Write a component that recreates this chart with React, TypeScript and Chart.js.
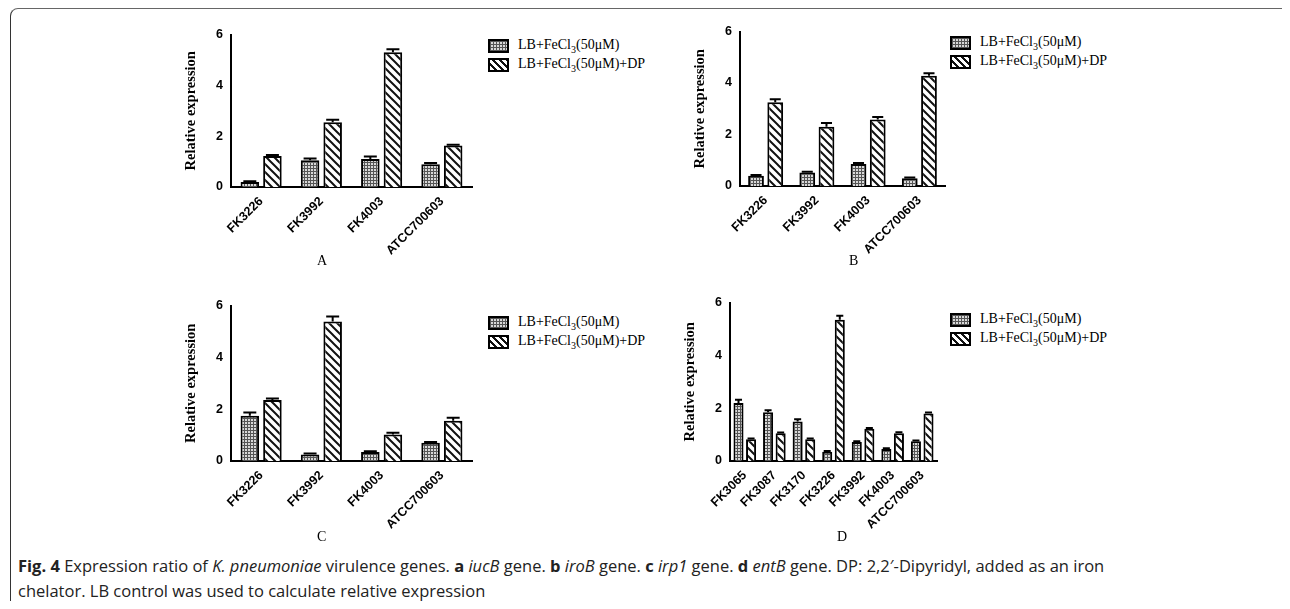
import { useEffect, useRef } from "react"
import { Chart, registerables } from "chart.js"

Chart.register(...registerables)

const catsABC = ["FK3226", "FK3992", "FK4003", "ATCC700603"]
const catsD = ["FK3065", "FK3087", "FK3170", "FK3226", "FK3992", "FK4003", "ATCC700603"]

const aFe = [0.2, 1.05, 1.1, 0.9]
const aFeErr = [0.03, 0.07, 0.1, 0.04]
const aDp = [1.22, 2.55, 5.3, 1.63]
const aDpErr = [0.04, 0.1, 0.12, 0.03]

const bFe = [0.4, 0.52, 0.85, 0.3]
const bFeErr = [0.03, 0.03, 0.04, 0.03]
const bDp = [3.25, 2.3, 2.58, 4.28]
const bDpErr = [0.12, 0.15, 0.1, 0.1]

const cFe = [1.75, 0.25, 0.35, 0.7]
const cFeErr = [0.12, 0.04, 0.03, 0.03]
const cDp = [2.35, 5.38, 1.02, 1.55]
const cDpErr = [0.06, 0.2, 0.07, 0.12]

const dFe = [2.2, 1.85, 1.5, 0.35, 0.72, 0.45, 0.75]
const dFeErr = [0.12, 0.07, 0.08, 0.03, 0.03, 0.03, 0.03]
const dDp = [0.82, 1.05, 0.82, 5.35, 1.22, 1.05, 1.8]
const dDpErr = [0.03, 0.03, 0.03, 0.15, 0.03, 0.04, 0.04]

const yTicks = [0, 2, 4, 6]
const legendLabels = ["LB+FeCl", "LB+FeCl"]

function makePattern(kind: "dots" | "stripes"): CanvasPattern | string {
  const c = document.createElement("canvas")
  const g = c.getContext("2d")
  if (!g) return "#888"
  if (kind === "dots") {
    c.width = 3
    c.height = 3
    g.fillStyle = "#d8d8d8"
    g.fillRect(0, 0, 3, 3)
    g.fillStyle = "#555"
    g.fillRect(0, 0, 1, 3)
    g.fillRect(0, 0, 3, 1)
  } else {
    c.width = 8
    c.height = 8
    g.fillStyle = "#fff"
    g.fillRect(0, 0, 8, 8)
    g.strokeStyle = "#111"
    g.lineWidth = 2
    g.beginPath()
    g.moveTo(-2, -2)
    g.lineTo(10, 10)
    g.moveTo(-2, 6)
    g.lineTo(2, 10)
    g.moveTo(6, -2)
    g.lineTo(10, 2)
    g.stroke()
  }
  return g.createPattern(c, "repeat") || "#888"
}

const errorBars = {
  id: "errorBars",
  afterDatasetsDraw(chart: any) {
    const ctx = chart.ctx
    const y = chart.scales.y
    chart.data.datasets.forEach((ds: any, i: number) => {
      const meta = chart.getDatasetMeta(i)
      meta.data.forEach((bar: any, j: number) => {
        const top = y.getPixelForValue(ds.data[j] + ds.err[j])
        const w = bar.width * 0.35
        ctx.save()
        ctx.strokeStyle = "#000"
        ctx.lineWidth = 2
        ctx.beginPath()
        ctx.moveTo(bar.x, bar.y)
        ctx.lineTo(bar.x, top)
        ctx.moveTo(bar.x - w, top)
        ctx.lineTo(bar.x + w, top)
        ctx.stroke()
        ctx.restore()
      })
    })
  },
}

interface PanelProps {
  left: number
  top: number
  plotW: number
  plotH: number
  cats: string[]
  fe: number[]
  feErr: number[]
  dp: number[]
  dpErr: number[]
  catPct: number
  barPct: number
}

const YW = 50
const PAD = 8
const XH = 80

const Panel: React.FC<PanelProps> = (p) => {
  const ref = useRef<HTMLCanvasElement | null>(null)
  useEffect(() => {
    if (!ref.current) return
    const font = { family: "Arial, 'Liberation Sans'", weight: "bold" as const, size: 12.5 }
    const chart = new Chart(ref.current, {
      type: "bar",
      data: {
        labels: p.cats,
        datasets: [
          { data: p.fe, err: p.feErr, backgroundColor: makePattern("dots"), borderColor: "#000", borderWidth: 2, categoryPercentage: p.catPct, barPercentage: p.barPct } as any,
          { data: p.dp, err: p.dpErr, backgroundColor: makePattern("stripes"), borderColor: "#000", borderWidth: 2, categoryPercentage: p.catPct, barPercentage: p.barPct } as any,
        ],
      },
      options: {
        responsive: false,
        animation: false,
        layout: { padding: { top: PAD, right: 4, left: 0, bottom: 0 } },
        plugins: { legend: { display: false }, tooltip: { enabled: false } },
        scales: {
          x: {
            grid: { display: false, drawTicks: true, tickLength: 5, tickColor: "#000", tickWidth: 2 },
            border: { color: "#000", width: 2 },
            ticks: { color: "#000", font, maxRotation: 45, minRotation: 45, padding: 2 },
            afterFit: (s: any) => { s.height = XH },
          },
          y: {
            min: 0,
            max: 6,
            afterBuildTicks: (s: any) => { s.ticks = yTicks.map((v) => ({ value: v })) },
            grid: { display: false, drawTicks: true, tickLength: 5, tickColor: "#000", tickWidth: 2 },
            border: { color: "#000", width: 2 },
            ticks: { color: "#000", font, padding: 3 },
            title: { display: true, text: "Relative expression", color: "#000", padding: 2, font: { family: "'Liberation Serif', 'Times New Roman', serif", weight: "bold", size: 14.5 } },
            afterFit: (s: any) => { s.width = YW },
          },
        },
      },
      plugins: [errorBars],
    })
    return () => chart.destroy()
  }, [p])
  return (
    <canvas
      ref={ref}
      width={YW + p.plotW + 4}
      height={PAD + p.plotH + XH}
      style={{ position: "absolute", left: p.left - YW, top: p.top - PAD }}
    />
  )
}

const swDots = "repeating-linear-gradient(0deg,#555 0 1px,transparent 1px 3px),repeating-linear-gradient(90deg,#555 0 1px,#d8d8d8 1px 3px)"
const swStripes = "repeating-linear-gradient(45deg,#fff 0 3px,#111 3px 5px)"

const Legend: React.FC<{ left: number; top: number }> = ({ left, top }) => {
  const row = (bg: string, extra: string, dy: number, i: number) => (
    <div style={{ position: "absolute", left, top: top + dy, display: "flex", alignItems: "center", font: "14px 'Liberation Serif', serif", whiteSpace: "nowrap" }}>
      <div style={{ width: 17, height: 10, border: "2px solid #000", background: bg, marginRight: 9 }} />
      <span>{legendLabels[i]}<sub style={{ fontSize: 10 }}>3</sub>(50μM){extra}</span>
    </div>
  )
  return (
    <>
      {row(swDots, "", 0, 0)}
      {row(swStripes, "+DP", 19, 1)}
    </>
  )
}

const Letter: React.FC<{ x: number; y: number; t: string }> = ({ x, y, t }) => (
  <div style={{ position: "absolute", left: x - 6, top: y - 9, font: "14px 'Liberation Serif', serif" }}>{t}</div>
)

export default function App() {
  return (
    <div style={{ position: "relative", width: 1290, height: 609, margin: -8, background: "#fff", overflow: "hidden" }}>
      <div style={{ position: "absolute", left: 10, top: 8, width: 1300, height: 700, borderTop: "1.5px solid #666", borderLeft: "1.5px solid #333", borderTopLeftRadius: 8 }} />
      <Panel left={231} top={32} plotW={241} plotH={155} cats={catsABC} fe={aFe} feErr={aFeErr} dp={aDp} dpErr={aDpErr} catPct={0.75} barPct={0.82} />
      <Panel left={740} top={29} plotW={205} plotH={157} cats={catsABC} fe={bFe} feErr={bFeErr} dp={bDp} dpErr={bDpErr} catPct={0.75} barPct={0.82} />
      <Panel left={231} top={303} plotW={241} plotH={158} cats={catsABC} fe={cFe} feErr={cFeErr} dp={cDp} dpErr={cDpErr} catPct={0.75} barPct={0.82} />
      <Panel left={730} top={300} plotW={207} plotH={161} cats={catsD} fe={dFe} feErr={dFeErr} dp={dDp} dpErr={dDpErr} catPct={0.85} barPct={0.8} />
      <Legend left={488} top={37} />
      <Legend left={950} top={34} />
      <Legend left={488} top={314} />
      <Legend left={950} top={311} />
      <Letter x={323} y={262} t="A" />
      <Letter x={855} y={262} t="B" />
      <Letter x={323} y={538} t="C" />
      <Letter x={843} y={538} t="D" />
      <div style={{ position: "absolute", left: 18, top: 553, width: 1140, font: "16.5px 'Open Sans', sans-serif", lineHeight: "25px", color: "#222" }}>
        <b>Fig. 4</b> Expression ratio of <i>K. pneumoniae</i> virulence genes. <b>a</b> <i>iucB</i> gene. <b>b</b> <i>iroB</i> gene. <b>c</b> <i>irp1</i> gene. <b>d</b> <i>entB</i> gene. DP: 2,2′-Dipyridyl, added as an iron chelator. LB control was used to calculate relative expression
      </div>
    </div>
  )
}
